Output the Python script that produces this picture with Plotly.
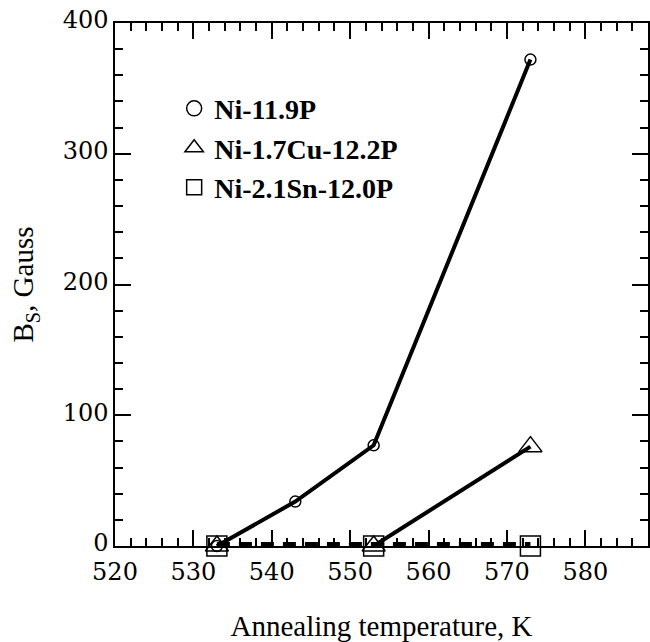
import plotly.graph_objects as go

# Annealing temperatures (K) and saturation induction B_s (Gauss)
temps = [533, 543, 553, 573]
bs_ni_p = [0, 34, 77, 372]

temps_cu = [533, 553, 573]
bs_ni_cu_p = [0, 0, 76]

temps_sn = [533, 553, 573]
bs_ni_sn_p = [0, 0, 0]

series_names = ["Ni-11.9P", "Ni-1.7Cu-12.2P", "Ni-2.1Sn-12.0P"]

x_ticks = [520, 530, 540, 550, 560, 570, 580]
y_ticks = [0, 100, 200, 300, 400]

TICK_FONT = dict(family="DejaVu Serif", size=24, color="black")
TITLE_FONT = dict(family="Liberation Serif", size=29, color="black")

fig = go.Figure()

# Ni-Sn-P: stays at zero, drawn as a heavy dashed line
fig.add_trace(go.Scatter(
    x=temps_sn, y=bs_ni_sn_p, mode="lines+markers",
    line=dict(color="black", width=8, dash="13px,9px"),
    marker=dict(symbol="square-open", size=20, color="black",
                line=dict(width=1.5, color="black")),
    showlegend=False, cliponaxis=False,
))

# Ni-Cu-P: markers at every point, solid line from the last zero onward
start = max(i for i, v in enumerate(bs_ni_cu_p) if v == 0)
fig.add_trace(go.Scatter(
    x=temps_cu[start:], y=bs_ni_cu_p[start:], mode="lines",
    line=dict(color="black", width=4),
    showlegend=False, cliponaxis=False,
))
fig.add_trace(go.Scatter(
    x=temps_cu, y=bs_ni_cu_p, mode="markers",
    marker=dict(symbol="triangle-up-open", size=20, color="black",
                line=dict(width=1.5, color="black")),
    showlegend=False, cliponaxis=False,
))

# Ni-P
fig.add_trace(go.Scatter(
    x=temps, y=bs_ni_p, mode="lines+markers",
    line=dict(color="black", width=4),
    marker=dict(symbol="circle-open", size=11, color="black",
                line=dict(width=1.5, color="black")),
    showlegend=False, cliponaxis=False,
))

# Legend entries (symbols only)
for name, sym, size in zip(series_names,
                           ["circle-open", "triangle-up-open", "square-open"],
                           [15, 16, 15]):
    fig.add_trace(go.Scatter(
        x=[None], y=[None], mode="markers", name=name,
        marker=dict(symbol=sym, size=size, color="black",
                    line=dict(width=1.5, color="black")),
    ))

axis_common = dict(
    showline=True, linecolor="black", linewidth=1.5,
    mirror="allticks", ticks="inside", ticklen=16, tickwidth=1.5,
    tickcolor="black", showgrid=False, zeroline=False,
    tickfont=TICK_FONT,
)

fig.update_xaxes(
    range=[520, 588], tickvals=x_ticks, ticktext=[str(v) for v in x_ticks],
    minor=dict(ticks="inside", ticklen=8, tickwidth=1.5, tickcolor="black",
               dtick=2, showgrid=False),
    ticklabelstandoff=3,
    title=dict(text="Annealing temperature, K", font=TITLE_FONT, standoff=35),
    **axis_common,
)
fig.update_yaxes(
    range=[0, 400], tickvals=y_ticks, ticktext=[str(v) for v in y_ticks],
    minor=dict(ticks="inside", ticklen=8, tickwidth=1.5, tickcolor="black",
               dtick=20, showgrid=False),
    ticklabelshift=-3,
    title=dict(text="B<sub>S</sub>, Gauss", font=TITLE_FONT, standoff=20),
    **axis_common,
)

fig.update_layout(
    width=650, height=642,
    margin=dict(l=115, r=2, t=23, b=96, autoexpand=False),
    paper_bgcolor="white", plot_bgcolor="white",
    legend=dict(
        x=0.111, y=0.884, xanchor="left", yanchor="top",
        bgcolor="rgba(0,0,0,0)",
        font=dict(family="Liberation Serif", size=28, color="black",
                  weight="bold"),
        tracegroupgap=0,
    ),
)

fig.write_html("out.html")
